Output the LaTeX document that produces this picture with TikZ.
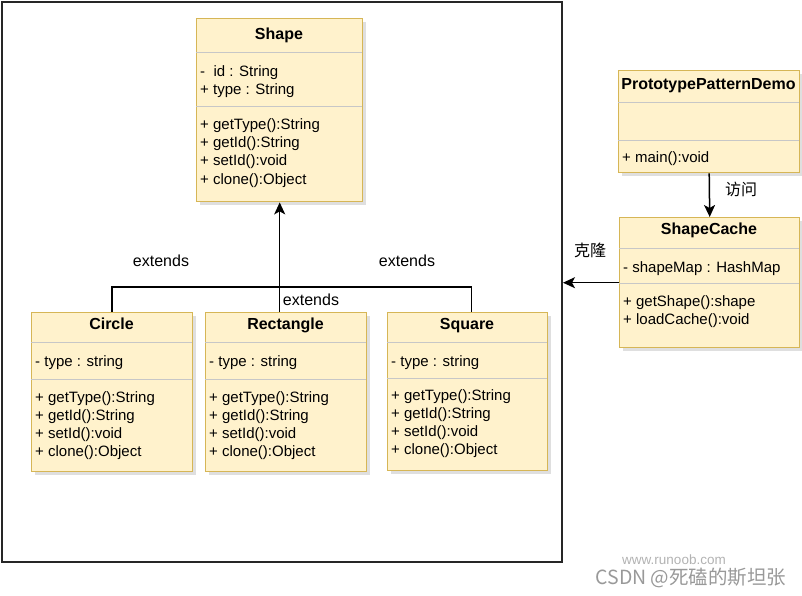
\documentclass[tikz,border=0pt]{standalone}
\usepackage{fontspec}
\setmainfont{Liberation Sans}
\newfontfamily\cjk{Noto Sans CJK SC}
\usetikzlibrary{arrows.meta,shadows}
\definecolor{classfill}{HTML}{FFF2CC}
\definecolor{classline}{HTML}{D6B656}

\begin{document}
\begin{tikzpicture}[x=1pt,y=-1pt,
  classbox/.style={draw=classline,fill=classfill,line width=1.4pt,anchor=north west,inner sep=0pt,
    drop shadow={shadow xshift=3pt,shadow yshift=-3pt,fill=black!25}},
  sep/.style={draw=black!22,line width=0.8pt},
  title/.style={font=\fontsize{16}{18}\selectfont\bfseries,anchor=base},
  member/.style={font=\fontsize{15}{18}\selectfont,anchor=base west,inner sep=0pt},
  lbl/.style={font=\fontsize{16}{18}\selectfont},
  link/.style={line width=1.5pt},
  arr/.style={line width=1.5pt,-{Stealth[length=12pt,width=11pt,inset=3pt]}}]

\useasboundingbox (0,0) rectangle (802,596);

% outer frame
\node[draw=black!85,line width=2pt,minimum width=560pt,minimum height=560pt,anchor=north west,inner sep=0pt] (pkg) at (1,1) {};

% Shape
\node[classbox,minimum width=166pt,minimum height=183pt] (shape) at (196,18) {};
\draw[sep] (196,52) -- (362,52);
\draw[sep] (196,106) -- (362,106);
\node[title] (shape-t) at (279,40) {Shape};
\foreach \m [count=\i from 0] in {- \ id : String, + type : String}
  \node[member] (shape-a\i) at (200,77+18*\i) {\m};
\foreach \m [count=\i from 0] in {+ getType():String, + getId():String, + setId():void, + clone():Object}
  \node[member] (shape-m\i) at (200,130+18*\i) {\m};

% PrototypePatternDemo
\node[classbox,minimum width=181pt,minimum height=102pt] (demo) at (618,70) {};
\draw[sep] (618,102) -- (799,102);
\draw[sep] (618,140) -- (799,140);
\node[title] (demo-t) at (708.5,90) {PrototypePatternDemo};
\node[member] (demo-m0) at (622,163) {+ main():void};

% ShapeCache
\node[classbox,minimum width=180pt,minimum height=130pt] (cache) at (619,217) {};
\draw[sep] (619,248) -- (799,248);
\draw[sep] (619,283) -- (799,283);
\node[title] (cache-t) at (709,234) {ShapeCache};
\node[member] (cache-a0) at (623,272) {- shapeMap : HashMap};
\foreach \m [count=\i from 0] in {+ getShape():shape, + loadCache():void}
  \node[member] (cache-m\i) at (623,306+18*\i) {\m};

% Circle
\node[classbox,minimum width=161pt,minimum height=159pt] (circle) at (31,312) {};
\draw[sep] (31,342) -- (192,342);
\draw[sep] (31,379) -- (192,379);
\node[title] (circle-t) at (111.5,329) {Circle};
\node[member] (circle-a0) at (35,366) {- type : string};
\foreach \m [count=\i from 0] in {+ getType():String, + getId():String, + setId():void, + clone():Object}
  \node[member] (circle-m\i) at (35,402+18*\i) {\m};

% Rectangle
\node[classbox,minimum width=161pt,minimum height=159pt] (rect) at (205,312) {};
\draw[sep] (205,342) -- (366,342);
\draw[sep] (205,379) -- (366,379);
\node[title] (rect-t) at (285.5,329) {Rectangle};
\node[member] (rect-a0) at (209,366) {- type : string};
\foreach \m [count=\i from 0] in {+ getType():String, + getId():String, + setId():void, + clone():Object}
  \node[member] (rect-m\i) at (209,402+18*\i) {\m};

% Square
\node[classbox,minimum width=160pt,minimum height=158pt] (square) at (387,312) {};
\draw[sep] (387,342) -- (547,342);
\draw[sep] (387,378) -- (547,378);
\node[title] (square-t) at (467,329) {Square};
\node[member] (square-a0) at (391,366) {- type : string};
\foreach \m [count=\i from 0] in {+ getType():String, + getId():String, + setId():void, + clone():Object}
  \node[member] (square-m\i) at (391,400+18*\i) {\m};

% connectors
\coordinate (join) at (279,287);
\draw[link] (circle.north) |- (join) -| ([xshift=4pt]square.north);
\draw[arr] (rect.north -| shape.south) -- (shape.south);
\draw[arr] (demo.south) -- (cache.north);
\draw[arr] (cache.west) -- (cache.west -| pkg.east);

\node[lbl] (ext-l) at (161,261) {extends};
\node[lbl] (ext-r) at (407,261) {extends};
\node[lbl] (ext-m) at (311,300) {extends};
\node[lbl,font=\fontsize{16}{18}\selectfont\cjk] (visit) at (741,189) {访问};
\node[lbl,font=\fontsize{16}{18}\selectfont\cjk] (clone) at (590,250) {克隆};

% watermark
\node[text=black!30,font=\fontsize{13.5}{14}\selectfont] (wm1) at (674,560) {www.runoob.com};
\node[text=black!40,font=\fontsize{19.5}{20}\selectfont\cjk] (wm2) at (691,578) {CSDN @死磕的斯坦张};
\end{tikzpicture}
\end{document}
